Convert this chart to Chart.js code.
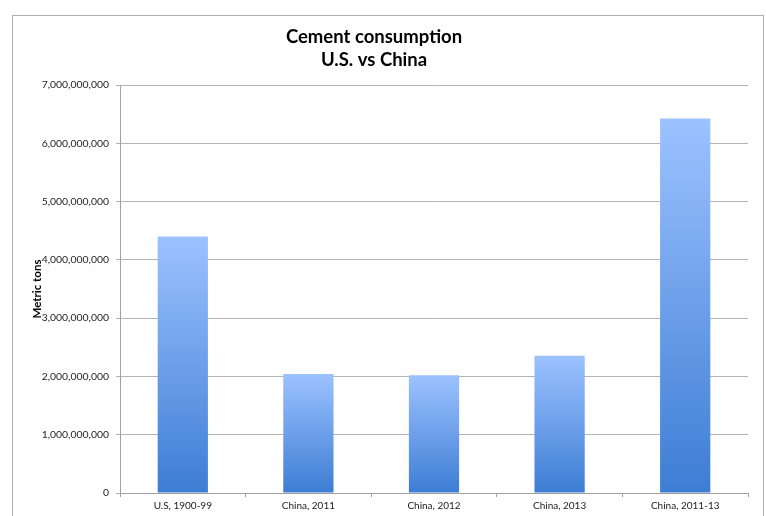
<!DOCTYPE html>
<html>
    <head>
        <title>Cement consumption</title>
        <meta charset="utf-8">
        <style>
            body { margin: 0; background: #fff; overflow: hidden; }
            #frame {
                position: absolute; left: 12px; top: 15px;
                width: 752px; height: 600px;
                box-sizing: border-box;
                border: 1px solid #b0b0b0;
            }
            #wrap { position: absolute; left: 0; top: 0; width: 766px; height: 516px; }
        </style>
    </head>
    <body>
        <div id="frame"></div>
        <div id="wrap">
            <canvas id="myChart" width="766" height="516"></canvas>
        </div>
        <script src="https://cdn.jsdelivr.net/npm/chart.js@4/dist/chart.umd.min.js"></script>
        <script>
            // data
            var categories = ['U.S, 1900-99', 'China, 2011', 'China, 2012', 'China, 2013', 'China, 2011-13'];
            var tons = [4400000000, 2040000000, 2020000000, 2355000000, 6425000000];
            var titleLines = ['Cement consumption', 'U.S. vs China'];
            var yTitle = 'Metric tons';

            var ctx = document.getElementById('myChart').getContext('2d');
            var chart = new Chart(ctx, {
                type: 'bar',
                data: {
                    labels: categories,
                    datasets: [{
                        label: 'Metric tons',
                        data: tons,
                        barPercentage: 0.8,
                        categoryPercentage: 0.5,
                        borderWidth: 0,
                        // each bar gets its own light-to-dark fade
                        backgroundColor: function (c) {
                            var ch = c.chart;
                            if (!ch.chartArea || c.type !== 'data') return '#6a9de8';
                            var y = ch.scales.y;
                            var top = y.getPixelForValue(c.raw);
                            var bottom = y.getPixelForValue(0);
                            var g = ch.ctx.createLinearGradient(0, top, 0, bottom);
                            g.addColorStop(0, '#9cc2ff');
                            g.addColorStop(1, '#3d7dd4');
                            return g;
                        }
                    }]
                },
                options: {
                    responsive: false,
                    animation: false,
                    layout: { padding: { top: 15, right: 18, left: 0, bottom: 0 } },
                    plugins: {
                        legend: { display: false },
                        tooltip: { enabled: false },
                        title: {
                            display: true,
                            text: titleLines,
                            color: '#000',
                            font: { family: 'Lato', size: 18.5, weight: 'bold', lineHeight: 1.25 },
                            padding: { top: 10, bottom: 13.75 }
                        }
                    },
                    scales: {
                        x: {
                            grid: { drawOnChartArea: false, drawTicks: true, tickLength: 4, color: '#a0a0a0' },
                            border: { display: true, color: '#a0a0a0' },
                            ticks: {
                                color: '#222',
                                padding: 3,
                                maxRotation: 0,
                                font: { family: 'Lato', size: 10 }
                            },
                            afterFit: function (s) { s.height = 23; }
                        },
                        y: {
                            min: 0,
                            max: 7000000000,
                            ticks: {
                                stepSize: 1000000000,
                                color: '#222',
                                padding: 7,
                                font: { family: 'Lato', size: 10.4 },
                                callback: function (v) { return v.toLocaleString('en-US'); }
                            },
                            grid: { color: '#b4b4b4', tickLength: 4 },
                            border: { display: true, color: '#a0a0a0' },
                            title: {
                                display: true,
                                text: yTitle,
                                color: '#000',
                                font: { family: 'Lato', size: 11.5, weight: 'bold' },
                                padding: { top: 30, bottom: 0 }
                            },
                            afterFit: function (s) { s.width = 120; }
                        }
                    }
                }
            });
        </script>
    </body>
</html>
